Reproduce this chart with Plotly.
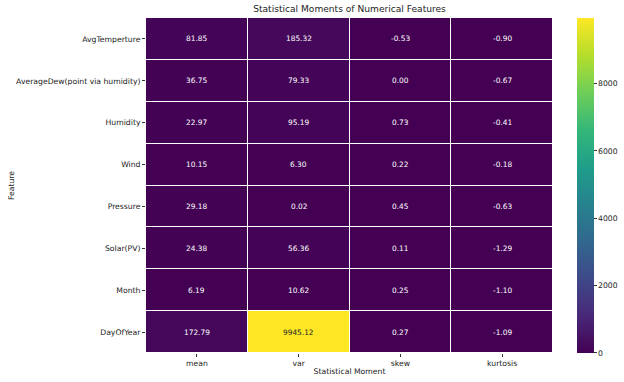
import plotly.graph_objects as go

features = ["AvgTemperture", "AverageDew(point via humidity)", "Humidity", "Wind",
            "Pressure", "Solar(PV)", "Month", "DayOfYear"]
moments = ["mean", "var", "skew", "kurtosis"]
mean_vals = [81.85, 36.75, 22.97, 10.15, 29.18, 24.38, 6.19, 172.79]
var_vals = [185.32, 79.33, 95.19, 6.30, 0.02, 56.36, 10.62, 9945.12]
skew_vals = [-0.53, 0.00, 0.73, 0.22, 0.45, 0.11, 0.25, 0.27]
kurt_vals = [-0.90, -0.67, -0.41, -0.18, -0.63, -1.29, -1.10, -1.09]

z = [[m, v, s, k] for m, v, s, k in zip(mean_vals, var_vals, skew_vals, kurt_vals)]
zmin = min(min(r) for r in z)
zmax = max(max(r) for r in z)

font = "DejaVu Sans"
fs = 7.7
fig = go.Figure()
fig.add_trace(go.Heatmap(
    z=z, x=moments, y=features,
    colorscale="Viridis", zmin=zmin, zmax=zmax,
    xgap=1, ygap=1,
    hoverongaps=False,
    colorbar=dict(
        x=577 / 624, xanchor="left", xref="container",
        y=0.5, yanchor="middle", len=1, lenmode="fraction",
        thickness=17, outlinewidth=0, xpad=0, ypad=0,
        tickvals=[0, 2000, 4000, 6000, 8000],
        ticks="outside", ticklen=3, tickcolor="#333",
        tickfont=dict(family=font, size=fs, color="#222"),
    ),
))

annotations = []
for i, f in enumerate(features):
    for j, m in enumerate(moments):
        val = z[i][j]
        frac = (val - zmin) / (zmax - zmin)
        col = "#262626" if frac > 0.6 else "white"
        annotations.append(dict(
            x=m, y=f, text=f"{val:.2f}", showarrow=False,
            font=dict(family=font, size=7.4, color=col),
            xref="x", yref="y"))

fig.update_layout(
    width=624, height=382,
    margin=dict(l=146, r=71, t=18, b=29),
    paper_bgcolor="white", plot_bgcolor="white",
    title=dict(text="Statistical Moments of Numerical Features", x=0.5, xref="paper",
               xanchor="center", y=1, yref="container", yanchor="top", pad=dict(t=6),
               automargin=False,
               font=dict(family=font, size=9.1, color="#222")),
    annotations=annotations,
    font=dict(family=font, size=fs, color="#222"),
)
fig.update_xaxes(
    title=dict(text="Statistical Moment", font=dict(family=font, size=fs, color="#222"), standoff=1),
    automargin=False,
    ticks="outside", ticklen=3, tickcolor="#333", showgrid=False, zeroline=False,
    tickfont=dict(family=font, size=fs, color="#222"))
fig.update_yaxes(
    title=dict(text="Feature", font=dict(family=font, size=fs, color="#222"), standoff=0),
    automargin=False,
    autorange="reversed",
    ticks="outside", ticklen=3, tickcolor="#333", showgrid=False, zeroline=False,
    tickfont=dict(family=font, size=fs, color="#222"))

fig.write_html("out.html", config={"displayModeBar": False},
               post_script="document.body.style.margin='0';document.body.style.overflow='hidden';")
